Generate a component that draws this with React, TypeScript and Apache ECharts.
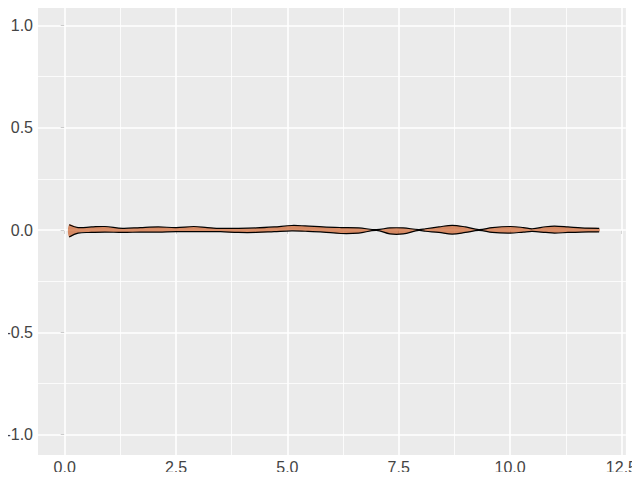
import React, { useEffect, useRef } from "react";
import * as echarts from "echarts";

const xs = [0.1, 0.3, 0.6, 0.9, 1.3, 1.7, 2.1, 2.5, 2.9, 3.2, 3.5, 3.9, 4.3, 4.7, 5.1, 5.4, 5.8, 6.2, 6.6, 7.0, 7.3, 7.6, 7.95, 8.1, 8.4, 8.7, 9.0, 9.3, 9.6, 10.0, 10.3, 10.5, 10.8, 11.0, 11.3, 11.6, 12.0];
const upper = [0.026, 0.012, 0.015, 0.017, 0.008, 0.012, 0.015, 0.012, 0.017, 0.012, 0.008, 0.008, 0.010, 0.015, 0.022, 0.020, 0.015, 0.012, 0.010, 0.002, 0.010, 0.010, 0.002, 0.006, 0.015, 0.023, 0.015, 0.002, 0.012, 0.017, 0.012, 0.006, 0.016, 0.019, 0.015, 0.010, 0.008];
const lower = [-0.034, -0.015, -0.012, -0.010, -0.012, -0.010, -0.010, -0.008, -0.008, -0.008, -0.008, -0.012, -0.012, -0.008, -0.004, -0.006, -0.010, -0.017, -0.015, -0.002, -0.019, -0.019, -0.002, -0.006, -0.012, -0.020, -0.012, -0.002, -0.012, -0.015, -0.010, -0.007, -0.012, -0.015, -0.012, -0.010, -0.009];

const xMajor = [0, 2.5, 5, 7.5, 10, 12.5];
const xMinor = [1.25, 3.75, 6.25, 8.75, 11.25];
const yMajor = [-1, -0.5, 0, 0.5, 1];
const yMinor = [-0.75, -0.25, 0.25, 0.75];

export default function App() {
  const ref = useRef<HTMLDivElement>(null);
  useEffect(() => {
    if (!ref.current) return;
    const chart = echarts.init(ref.current, undefined, { renderer: "svg" });
    const font = "Liberation Sans, Arial, Helvetica, sans-serif";
    const gridLines = [
      ...xMajor.map((v) => ({ xAxis: v, lineStyle: { width: 1.6 } })),
      ...xMinor.map((v) => ({ xAxis: v, lineStyle: { width: 0.8 } })),
      ...yMajor.map((v) => ({ yAxis: v, lineStyle: { width: 1.6 } })),
      ...yMinor.map((v) => ({ yAxis: v, lineStyle: { width: 0.8 } })),
    ];
    const ribbonData = xs.map((x, i) => [x, lower[i], upper[i]]);
    chart.setOption({
      animation: false,
      grid: {
        left: 38,
        right: 6,
        top: 5,
        bottom: 25,
        show: true,
        backgroundColor: "#EBEBEB",
        borderWidth: 0,
      },
      xAxis: {
        type: "value",
        min: -0.6,
        max: 12.6,
        axisLine: { show: false },
        splitLine: { show: false },
        axisTick: { show: true, length: 4, lineStyle: { color: "#333333", width: 1 }, customValues: xMajor },
        axisLabel: {
          customValues: xMajor,
          formatter: (v: number) => v.toFixed(1),
          color: "#444444",
          fontSize: 16,
          fontFamily: font,
          margin: 4,
        },
      },
      yAxis: {
        type: "value",
        min: -1.1,
        max: 1.1,
        axisLine: { show: false },
        splitLine: { show: false },
        axisTick: { show: true, length: 4, lineStyle: { color: "#333333", width: 1 }, customValues: yMajor },
        axisLabel: {
          customValues: yMajor,
          formatter: (v: number) => v.toFixed(1),
          color: "#444444",
          fontSize: 16,
          fontFamily: font,
          margin: 5,
        },
      },
      series: [
        {
          type: "line",
          data: [],
          z: 1,
          silent: true,
          markLine: {
            z: 1,
            silent: true,
            symbol: ["none", "none"],
            label: { show: false },
            lineStyle: { color: "#FFFFFF", type: "solid" },
            emphasis: { disabled: true },
            data: gridLines,
          },
        },
        {
          type: "custom",
          z: 10,
          silent: true,
          data: ribbonData,
          encode: { x: 0, y: [1, 2] },
          renderItem: (params: any, api: any) => {
            if (params.dataIndex !== 0) return null;
            const up = xs.map((x, i) => api.coord([x, upper[i]]));
            const lo = xs.map((x, i) => api.coord([x, lower[i]]));
            const poly = up.concat(lo.slice().reverse());
            return {
              type: "group",
              children: [
                {
                  type: "polygon",
                  shape: { points: poly, smooth: 0.35 },
                  style: { fill: "rgba(197,70,6,0.6)", stroke: null },
                },
                {
                  type: "polyline",
                  shape: { points: up, smooth: 0.35 },
                  style: { stroke: "#000000", lineWidth: 1.2, fill: null },
                },
                {
                  type: "polyline",
                  shape: { points: lo, smooth: 0.35 },
                  style: { stroke: "#000000", lineWidth: 1.2, fill: null },
                },
              ],
            };
          },
        },
      ],
    });
    return () => chart.dispose();
  }, []);
  return <div ref={ref} style={{ width: 640, height: 480, margin: -8 }} />;
}
